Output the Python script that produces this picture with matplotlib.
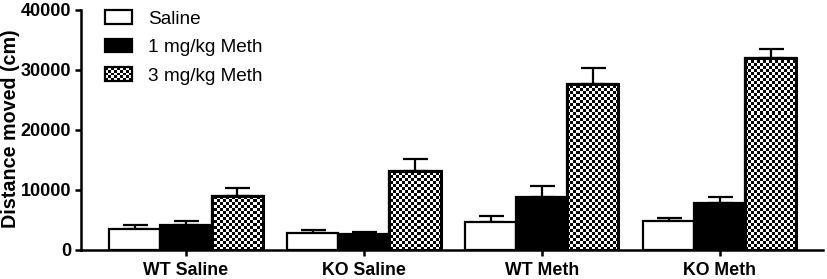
import numpy as np
import matplotlib
matplotlib.use("Agg")
import matplotlib.pyplot as plt
from matplotlib.patches import Rectangle, Patch
from matplotlib.legend_handler import HandlerBase

plt.rcParams['font.family'] = ['Liberation Sans', 'DejaVu Sans']

groups = ["WT Saline", "KO Saline", "WT Meth", "KO Meth"]
series = ["Saline", "1 mg/kg Meth", "3 mg/kg Meth"]
saline_mean = [3500, 2800, 4750, 4850]
saline_err = [600, 500, 850, 500]
meth1_mean = [4200, 2600, 8850, 7900]
meth1_err = [700, 450, 1750, 900]
meth3_mean = [8950, 13100, 27750, 32050]
meth3_err = [1450, 2000, 2600, 1500]
yticks = [0, 10000, 20000, 30000, 40000]

W, H = 827, 279
fig = plt.figure(figsize=(W / 100, H / 100), dpi=100)
ax = fig.add_axes([81 / W, 29 / H, (823 - 81) / W, 240 / H])

x = np.arange(len(groups))
bw = 0.287
lw_bar = 1.6

b0 = ax.bar(x - bw, saline_mean, bw, facecolor='white', edgecolor='black', linewidth=lw_bar, zorder=3)
b1 = ax.bar(x, meth1_mean, bw, facecolor='black', edgecolor='black', linewidth=lw_bar, zorder=3)
b2 = ax.bar(x + bw, meth3_mean, bw, facecolor='white', edgecolor='black', linewidth=lw_bar, zorder=3)

# checkerboard fill (cells about 3 px)
nx, ny = int(742 / 3), int(240 / 3)
checker = (np.indices((ny, nx)).sum(axis=0) % 2).astype(float)
for bar in b2:
    im = ax.imshow(checker, cmap='gray', extent=(0, 1, 0, 1), transform=ax.transAxes,
                   interpolation='nearest', aspect='auto', zorder=3.5, vmin=0, vmax=1)
    im.set_clip_path(bar)
ax.bar(x + bw, meth3_mean, bw, facecolor='none', edgecolor='black', linewidth=lw_bar + 0.6, zorder=4)

for off, m, e in [(-bw, saline_mean, saline_err), (0, meth1_mean, meth1_err), (bw, meth3_mean, meth3_err)]:
    ax.errorbar(x + off, m, yerr=[np.zeros(len(m)), e], fmt='none', ecolor='black',
                elinewidth=1.6, capsize=9, capthick=1.6, zorder=2)

ax.set_xlim(-0.59, 3.58)
ax.set_ylim(0, 40000)
ax.set_yticks(yticks)
ax.set_xticks(x)
ax.set_xticklabels(groups, fontsize=12.8, fontweight='bold')
for lab in ax.get_yticklabels():
    lab.set_fontsize(13)
    lab.set_fontweight('bold')
ax.set_ylabel("Distance moved (cm)", fontsize=14.2, fontweight='bold')
ax.yaxis.set_label_coords(-0.082, 0.506)
for s in ['top', 'right']:
    ax.spines[s].set_visible(False)
for s in ['left', 'bottom']:
    ax.spines[s].set_linewidth(1.8)
ax.tick_params(axis='both', width=1.8, length=4, direction='out')
ax.tick_params(axis='x', pad=4.5)
ax.tick_params(axis='y', pad=3)


class CheckerPatch(Patch):
    pass


class CheckerHandler(HandlerBase):
    def create_artists(self, legend, orig_handle, xdescent, ydescent, width, height, fontsize, trans):
        arts = []
        x0, y0 = -xdescent, -ydescent
        arts.append(Rectangle((x0, y0), width, height, facecolor='white', edgecolor='none', transform=trans))
        ncx, ncy = 9, 5
        cw, ch = width / ncx, height / ncy
        for i in range(ncx):
            for j in range(ncy):
                if (i + j) % 2 == 0:
                    arts.append(Rectangle((x0 + i * cw, y0 + j * ch), cw, ch, facecolor='black',
                                          edgecolor='none', transform=trans))
        arts.append(Rectangle((x0, y0), width, height, facecolor='none', edgecolor='black',
                              linewidth=1.6, transform=trans))
        return arts


handles = [Patch(facecolor='white', edgecolor='black', linewidth=1.6),
           Patch(facecolor='black', edgecolor='black', linewidth=1.6),
           CheckerPatch()]
fs_leg = 13.7
em = fs_leg * 100 / 72
ax.legend(handles, series, loc='upper left', bbox_to_anchor=(0.032, 1.0), frameon=False,
          fontsize=fs_leg, handlelength=27 / em, handleheight=14 / em, handletextpad=16 / em,
          labelspacing=0.58, borderpad=0, borderaxespad=0,
          handler_map={CheckerPatch: CheckerHandler()})

fig.savefig("out.png", dpi=100)
